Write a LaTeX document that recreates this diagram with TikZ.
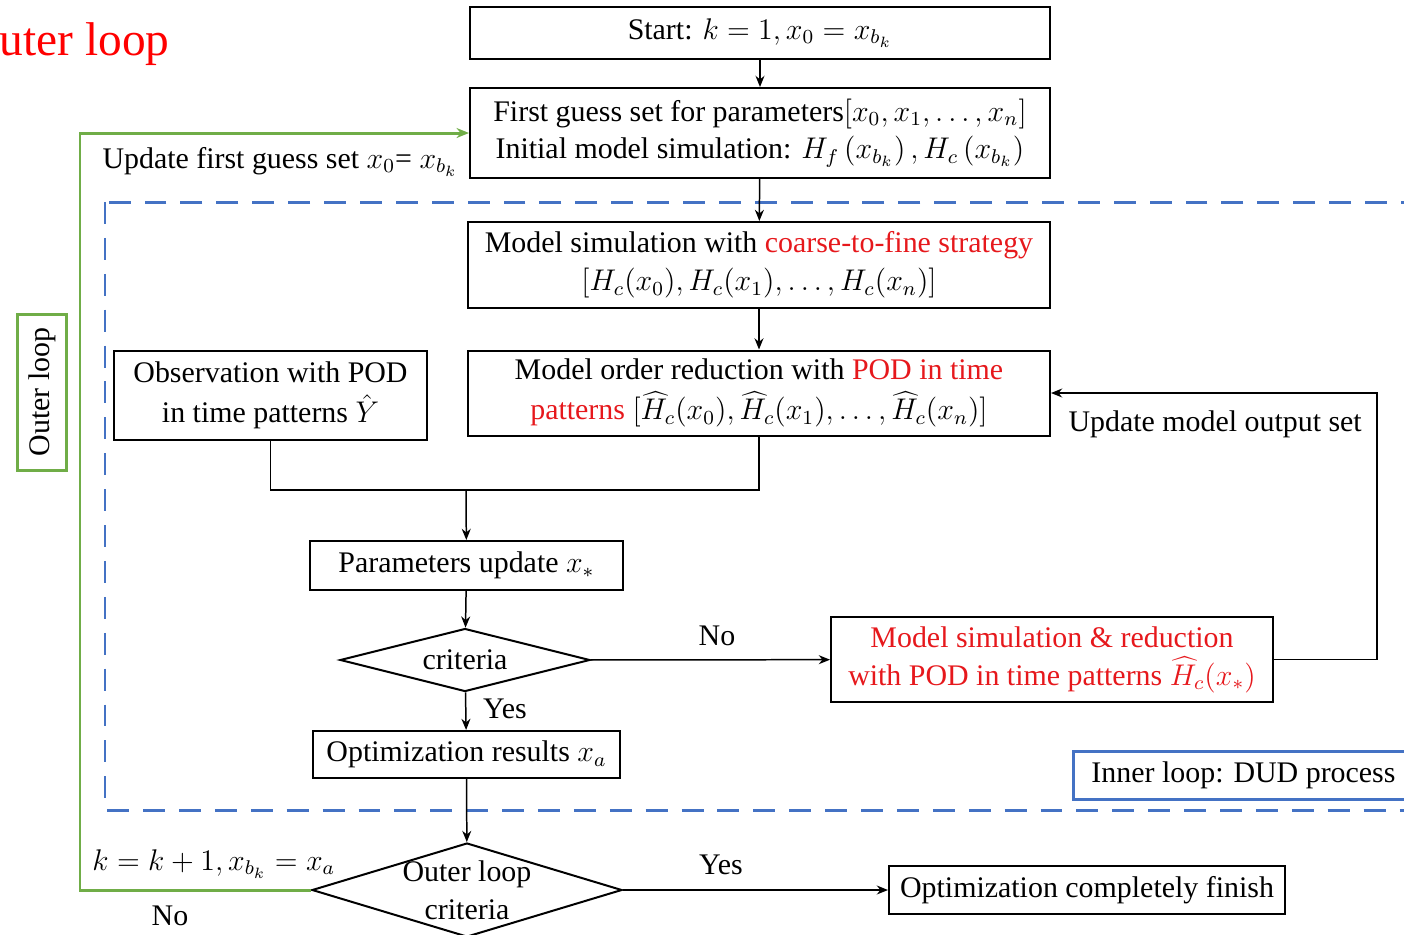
\documentclass[tikz,border=0pt]{standalone}
\usepackage{fontspec}
\setmainfont{Liberation Serif}
\usetikzlibrary{arrows.meta}
\usetikzlibrary{positioning}
\usetikzlibrary{shapes.geometric}
\definecolor{redtext}{RGB}{230,24,28}
\definecolor{dudblue}{RGB}{68,114,196}
\definecolor{loopgreen}{RGB}{112,173,71}
\newcommand{\pxu}{0.0141cm}
\tikzset{
    stepbox/.style={
        rectangle, draw=black, line width=0.8pt,
        align=center, inner sep=0pt,
    },
    decision/.style={
        diamond, draw=black, line width=0.8pt,
        align=center, inner sep=0pt,
    },
    flow/.style={line width=0.6pt, -{Stealth[length=4.5pt,width=3.6pt]}},
    flowline/.style={line width=0.6pt},
    caption/.style={inner sep=0pt, anchor=base},
}

\begin{document}
\begin{tikzpicture}[x=\pxu, y=-\pxu, font=\fontsize{12}{15.2}\selectfont]
        \useasboundingbox (0,0) rectangle (1404,935);
        \clip (0,0) rectangle (1404,935);

        \node (title) at(170,55) [
            inner sep=0pt, anchor=base east,
            text=red, font=\fontsize{19}{23}\selectfont,
        ] {Outer loop};

        \draw[dudblue, line width=1.2pt, dash pattern=on 8.8pt off 5.6pt]
            (105,202) rectangle (1520,810);

        \node (start) at(760,33) [
            stepbox,
            minimum width=580*\pxu, minimum height=52*\pxu,
        ] {Start: $k = 1, x_0 = x_{b_k}$};

        \node (guess) at(760,133) [
            stepbox,
            minimum width=580*\pxu, minimum height=90*\pxu,
        ] {First guess set for parameters$[x_0, x_1, \ldots, x_n]$\\
           Initial model simulation: $H_f\left(x_{b_k}\right), H_c\left(x_{b_k}\right)$};

        \node (sim) at(759,265) [
            stepbox,
            minimum width=582*\pxu, minimum height=86*\pxu,
        ] {Model simulation with \textcolor{redtext}{coarse-to-fine strategy}\\
           $[H_c(x_0), H_c(x_1), \ldots, H_c(x_n)]$};

        \node (mor) at(759,393) [
            stepbox,
            minimum width=582*\pxu, minimum height=85*\pxu,
        ] {Model order reduction with \textcolor{redtext}{POD in time}\\[1pt]
           \textcolor{redtext}{patterns} $[\widehat{H}_c(x_0), \widehat{H}_c(x_1), \ldots, \widehat{H}_c(x_n)]$};

        \node (obs) at(270.5,395.5) [
            stepbox,
            minimum width=313*\pxu, minimum height=89*\pxu,
        ] {Observation with POD\\[1pt]in time patterns $\hat{Y}$};

        \coordinate (merge) at(466,490);

        \node (param) at(466.5,565.5) [
            stepbox,
            minimum width=313*\pxu, minimum height=49*\pxu,
        ] {Parameters update $x_*$};

        \node (crit) at(465,660) [
            decision, aspect=4,
            minimum width=250*\pxu, minimum height=63*\pxu,
        ] {criteria};

        \node (simred) at(1052,659.5) [
            stepbox, text=redtext,
            minimum width=442*\pxu, minimum height=85*\pxu,
        ] {Model simulation \& reduction\\
           with POD in time patterns $\widehat{H}_c(x_*)$};

        \node (optres) at(466.5,754.5) [
            stepbox,
            minimum width=307*\pxu, minimum height=47*\pxu,
        ] {Optimization results $x_a$};

        \node (inner) at(1072,775) [
            rectangle, anchor=west, draw=dudblue, line width=1.2pt,
            minimum width=340*\pxu, minimum height=48*\pxu,
        ] {Inner loop: DUD process};

        \node (outer) at(467,890) [
            decision, aspect=3.3,
            minimum width=310*\pxu, minimum height=94*\pxu,
            inner sep=-4pt,
        ] {Outer loop\\criteria};

        \node (finish) at(1087,890) [
            stepbox,
            minimum width=396*\pxu, minimum height=48*\pxu,
        ] {Optimization completely finish};

        \node (outerlbl) at(42,392) [
            rectangle, rotate=90, draw=loopgreen, line width=1.2pt,
            minimum width=156*\pxu, minimum height=49*\pxu,
        ] {Outer loop};

        % connectors
        \draw[flow] (start) -- (guess);
        \draw[flow] (guess) -- (sim);
        \draw[flow] (sim) -- (mor);
        \draw[flowline] (obs.south) |- (merge) -| (mor.south);
        \draw[flow] (merge) -- (param);
        \draw[flow] (param) -- (crit);
        \draw[flow] (crit) -- (simred);
        \draw[flow] (simred.east) -- ++(103,0) |- (mor.east);
        \draw[flow] (crit) -- (optres);
        \draw[flow] (optres) -- (outer);
        \draw[flow] (outer) -- (finish);
        \draw[loopgreen, line width=1.2pt, -{Stealth[length=5pt,width=4pt]}]
            (outer.west) -- ++(-231,0) |- (guess.west);

        \node (nolbl) at(717,645) [caption] {No};
        \node (yeslbl) at(505,718) [caption] {Yes};
        \node (updout) at(1068,431) [caption, anchor=base west] {Update model output set};
        \node (yesend) at(721,874) [caption] {Yes};
        \node (nxtk) at(92,870) [caption, anchor=base west] {$k = k + 1, x_{b_k} = x_a$};
        \node (noend) at(170,925) [caption] {No};
        \node (updguess) at(102,168) [caption, anchor=base west] {Update first guess set $x_0$= $x_{b_k}$};
    \end{tikzpicture}
\end{document}
